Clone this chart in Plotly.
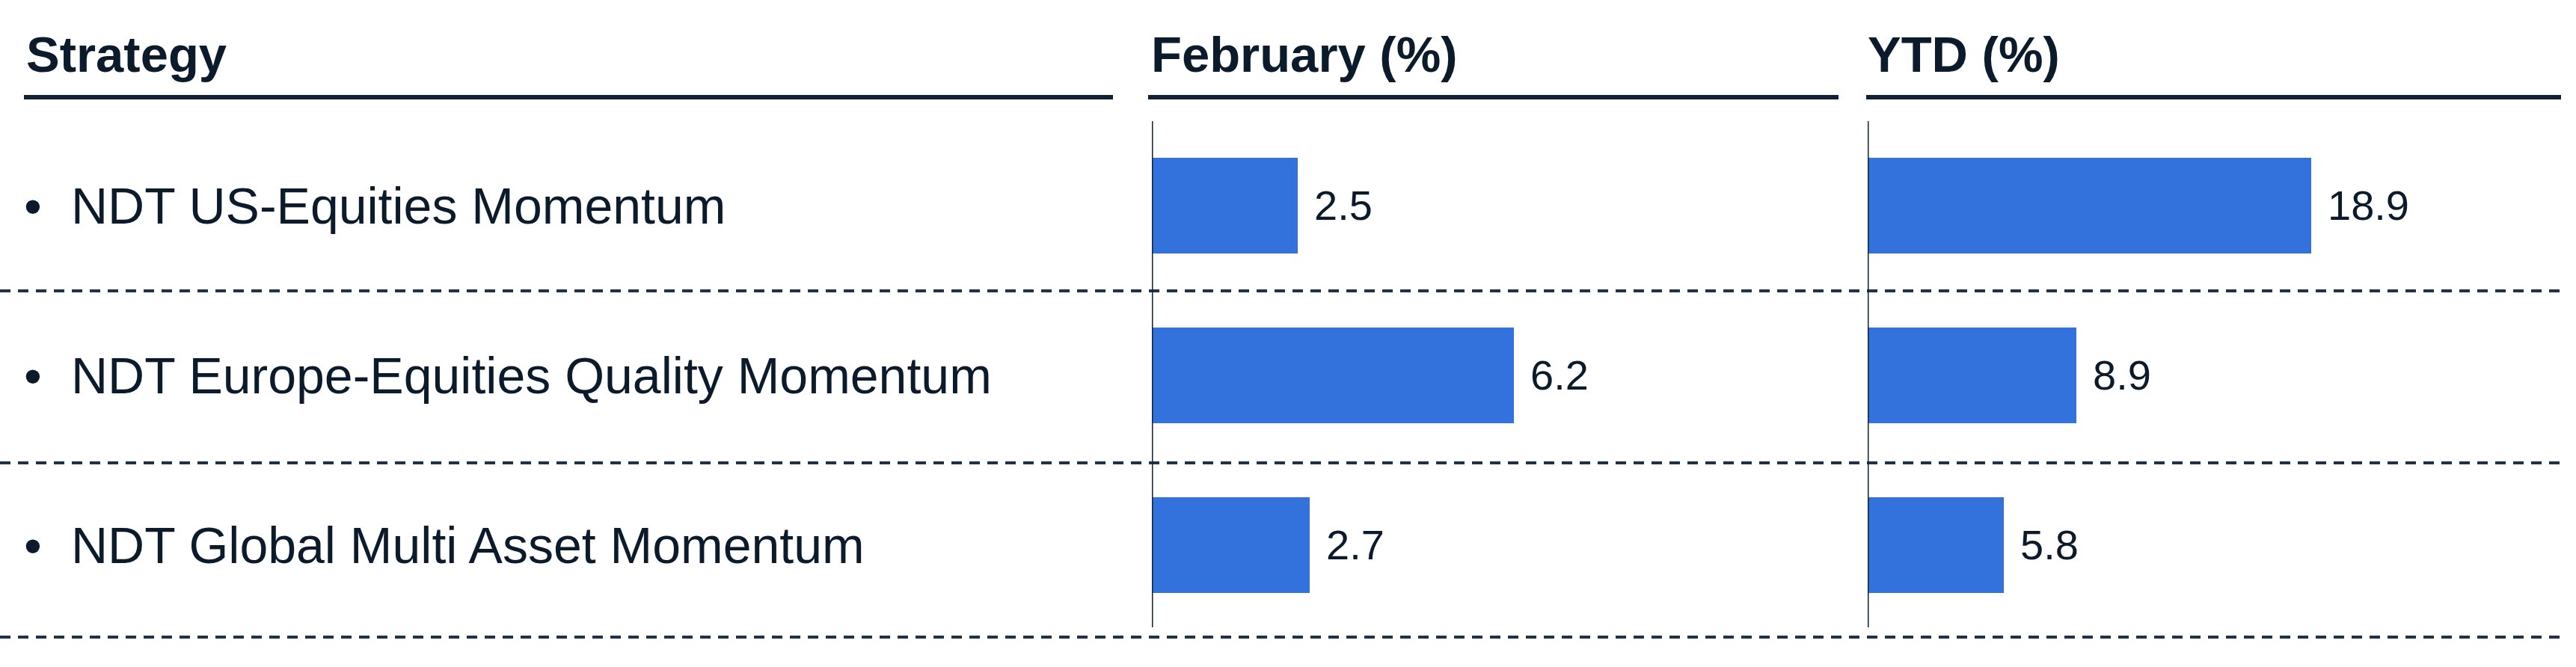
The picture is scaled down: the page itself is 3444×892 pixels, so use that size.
import plotly.graph_objects as go

# data
strategies = [
    "NDT US-Equities Momentum",
    "NDT Europe-Equities Quality Momentum",
    "NDT Global Multi Asset Momentum",
]
feb_pct = [2.5, 6.2, 2.7]
ytd_pct = [18.9, 8.9, 5.8]
headers = ["Strategy", "February (%)", "YTD (%)"]

W, H = 3444, 892
NAVY = "#0c1b2b"
LINE = "#0f2236"
DASH = "#1f3348"
BLUE = "#3371dc"
FONT = "Liberation Sans, Arial, Helvetica, sans-serif"


def px(x):
    return x / W


def py(y):
    return 1 - y / H


fig = go.Figure()

for vals, xa in [(feb_pct, "x"), (ytd_pct, "x2")]:
    fig.add_trace(
        go.Bar(
            x=vals,
            y=strategies,
            orientation="h",
            xaxis=xa,
            yaxis="y",
            width=0.56,
            marker=dict(color=BLUE, line=dict(width=0)),
            hoverinfo="x+y",
        )
    )

annotations = []

# value labels next to the bars
for vals, xa in [(feb_pct, "x"), (ytd_pct, "x2")]:
    for s, v in zip(strategies, vals):
        annotations.append(dict(
            x=v, y=s, xref=xa, yref="y", text=f"{v:.1f}",
            xanchor="left", yanchor="middle", xshift=20, showarrow=False,
            font=dict(family=FONT, size=56, color=NAVY),
        ))

# strategy names with bullets
for s in strategies:
    annotations.append(dict(
        x=px(30), y=s, xref="paper", yref="y", text="\u2022",
        xanchor="left", yanchor="middle", showarrow=False,
        font=dict(family=FONT, size=68, color=NAVY),
    ))
    annotations.append(dict(
        x=px(93), y=s, xref="paper", yref="y", text=s,
        xanchor="left", yanchor="middle", showarrow=False,
        font=dict(family=FONT, size=68, color=NAVY),
    ))

# column headers
for h, x0 in zip(headers, [33, 1537, 2495]):
    annotations.append(dict(
        x=px(x0), y=py(72), xref="paper", yref="paper", text=f"<b>{h}</b>",
        xanchor="left", yanchor="middle", showarrow=False,
        font=dict(family=FONT, size=67, color=NAVY),
    ))

shapes = []
# header underlines
for x0, x1 in [(32, 1488), (1535, 2458), (2495, 3424)]:
    shapes.append(dict(type="line", xref="paper", yref="paper",
                       x0=px(x0), x1=px(x1), y0=py(130), y1=py(130),
                       line=dict(color=LINE, width=6)))

# row separators
for y in [389, 619, 852]:
    shapes.append(dict(type="line", xref="paper", yref="paper",
                       x0=0, x1=px(3422), y0=py(y), y1=py(y),
                       line=dict(color=DASH, width=4, dash="14px,10px")))

# zero lines of both bar panels
for xa in ["x", "x2"]:
    shapes.append(dict(type="line", xref=xa, yref="paper",
                       x0=0, x1=0, y0=py(162), y1=py(839),
                       line=dict(color=LINE, width=3)))

axis_off = dict(showgrid=False, zeroline=False, showticklabels=False,
                ticks="", showline=False, fixedrange=True)

fig.update_layout(
    width=W,
    height=H,
    margin=dict(l=0, r=0, t=0, b=0),
    paper_bgcolor="white",
    plot_bgcolor="white",
    showlegend=False,
    bargap=0,
    xaxis=dict(domain=[px(1540), px(2458)], range=[0, 11.76], **axis_off),
    xaxis2=dict(domain=[px(2497), px(3423)], range=[0, 29.51], anchor="y", **axis_off),
    yaxis=dict(domain=[0, 1], type="category", categoryorder="array",
               categoryarray=strategies, range=[2.718, -1.211], **axis_off),
    annotations=annotations,
    shapes=shapes,
)

# page body has a default 8px margin; drop it so the figure sits at 0,0
fig.write_html("out.html", config={"displayModeBar": False},
               post_script="document.body.style.margin='0';")
